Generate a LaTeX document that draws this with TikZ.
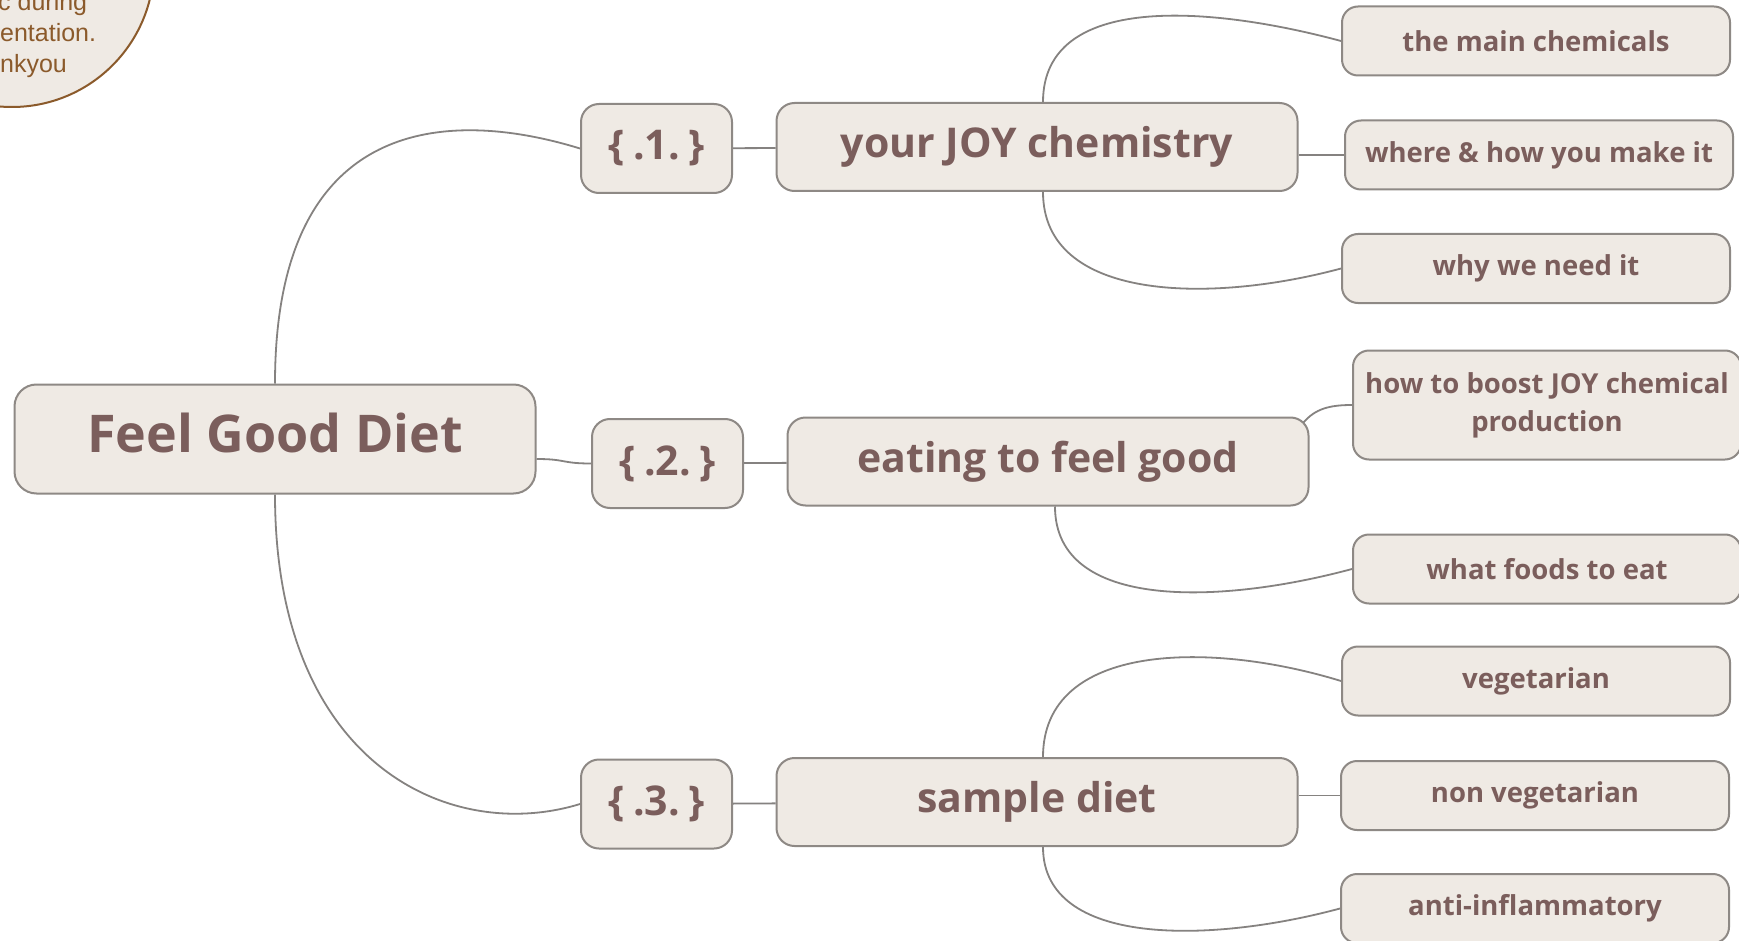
\documentclass[tikz,border=0pt]{standalone}
\usepackage{fontspec}
\setmainfont{Open Sans}
\newfontfamily\notefont{Liberation Sans}
\definecolor{boxfill}{HTML}{EFEAE4}
\definecolor{boxline}{HTML}{8E8985}
\definecolor{ink}{HTML}{7B5E5C}
\definecolor{linkgray}{HTML}{858280}
\definecolor{notebrown}{HTML}{8B5A2B}
\newcommand{\brsp}{\hspace{0.2em}}
\begin{document}
\begin{tikzpicture}[x=1pt, y=-1pt,
    box/.style={draw=boxline, fill=boxfill, text=ink, line width=2pt, rounded corners=18pt, inner sep=0pt},
    root/.style={box, minimum width=521pt, minimum height=109pt, rounded corners=22pt, text depth=12pt, font=\fontsize{52}{60}\selectfont\bfseries},
    num/.style={box, minimum width=151pt, minimum height=89pt, font=\fontsize{41}{48}\selectfont\bfseries},
    topic/.style={box, minimum width=521pt, minimum height=88pt, font=\fontsize{41}{48}\selectfont\bfseries},
    leaf/.style={box, minimum width=388pt, minimum height=69pt, rounded corners=16pt, font=\fontsize{27.5}{38}\selectfont\bfseries},
    note/.style={text=notebrown, inner sep=0pt, font=\notefont\fontsize{25}{31}\selectfont},
    link/.style={draw=linkgray, line width=1.8pt}]
    \useasboundingbox (0,0) rectangle (1739,941);
    \fill[white] (0,0) rectangle (1739,941);
    \begin{scope}
        \clip (0,0) rectangle (1739,941);
        \draw[draw=notebrown, fill=boxfill, line width=2pt] (12,-35) circle[radius=142pt];
        \node[note, anchor=base west] (note1) at (-2,11) {c during};
        \node[note, anchor=base west] (note2) at (0,42) {entation.};
        \node[note, anchor=base west] (note3) at (0,73) {nkyou};
    \end{scope}

    \node[root] (diet) at (275,439) {Feel Good Diet};
    \node[num] (n1) at (656.5,148.5) {\{\brsp.1.\brsp\}};
    \node[num] (n2) at (667.5,463.5) {\{\brsp.2.\brsp\}};
    \node[num] (n3) at (656.5,804) {\{\brsp.3.\brsp\}};
    \node[topic] (joy) at (1037,147) {your JOY chemistry};
    \node[topic] (eat) at (1048,461.5) {eating to feel good};
    \node[topic] (sample) at (1037,802) {sample diet};
    \node[leaf] (chem) at (1536,41) {the main chemicals};
    \node[leaf] (where) at (1539,155) {where \& how you make it};
    \node[leaf] (why) at (1536,268.5) {why we need it};
    \node[leaf, minimum height=109pt, align=center] (boost) at (1547,405) {how to boost JOY chemical\\production};
    \node[leaf] (foods) at (1547,569) {what foods to eat};
    \node[leaf] (veg) at (1536,681) {vegetarian};
    \node[leaf] (nonveg) at (1535,795.5) {non vegetarian};
    \node[leaf] (anti) at (1535,908.5) {anti-inflammatory};

    \draw[link] (diet.north) .. controls +(0,-270) and +(-130,-40) .. (n1.west);
    \draw[link] ([yshift=-20pt]diet.east) .. controls +(30,0) and +(-30,0) .. (n2.west);
    \draw[link] (diet.south) .. controls +(0,270) and +(-130,40) .. (n3.west);
    \draw[link] (n1) -- (joy);
    \draw[link] (n2) -- (eat);
    \draw[link] (n3) -- (sample);
    \draw[link] ([xshift=6pt]joy.north) .. controls +(0,-110) and +(-130,-35) .. (chem.west);
    \draw[link] (joy.east |- where.west) -- (where.west);
    \draw[link] ([xshift=6pt]joy.south) .. controls +(0,110) and +(-130,35) .. (why.west);
    \draw[link] ([xshift=-6pt,yshift=-6pt]eat.north east) .. controls +(12,-14) and +(-22,0) .. (boost.west);
    \draw[link] ([xshift=7pt]eat.south) .. controls +(0,105) and +(-130,35) .. (foods.west);
    \draw[link] ([xshift=6pt]sample.north) .. controls +(0,-115) and +(-130,-40) .. (veg.west);
    \draw[link] (sample.east |- nonveg.west) -- (nonveg.west);
    \draw[link] ([xshift=6pt]sample.south) .. controls +(0,100) and +(-130,35) .. (anti.west);
\end{tikzpicture}
\end{document}
